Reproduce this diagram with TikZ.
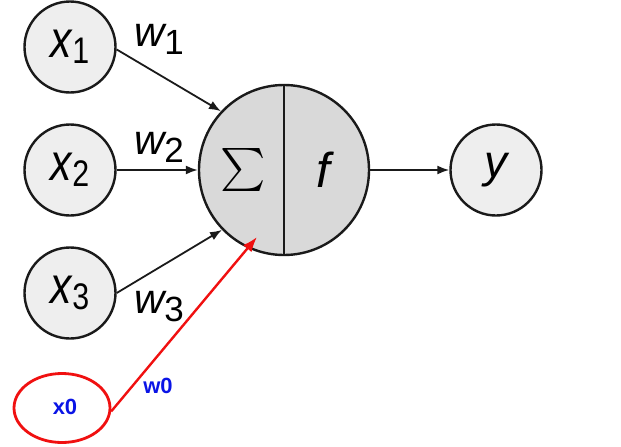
\documentclass[tikz,border=0pt]{standalone}
\usepackage{fontspec}
\setmainfont{Liberation Sans}
\usetikzlibrary{shapes.geometric,arrows.meta}
\newcommand{\xsub}[1]{\scalebox{0.82}[1]{{\fontsize{52}{52}\selectfont\itshape x}\kern0.5pt\raisebox{-6pt}{\fontsize{37}{37}\selectfont #1}}}
\newcommand{\wsub}[1]{{\fontsize{42}{42}\selectfont\itshape w}\raisebox{-8pt}{\fontsize{35}{35}\selectfont #1}}
\definecolor{smallfill}{HTML}{EEEEEE}
\definecolor{bigfill}{HTML}{D9D9D9}
\definecolor{edge}{HTML}{1A1A1A}
\definecolor{myred}{HTML}{F01010}
\definecolor{myblue}{HTML}{0A14E6}
\begin{document}
\begin{tikzpicture}[x=1pt,y=-1pt,
  inp/.style={circle,draw=edge,line width=2.4pt,fill=smallfill,minimum size=91pt,inner sep=0pt},
  conn/.style={line width=1.8pt,draw=edge,-{Latex[length=12pt,width=9pt]}},
  redconn/.style={line width=2.4pt,draw=myred,-{Latex[length=15pt,width=11pt]}},
  lab/.style={inner sep=0pt},
  bluelab/.style={text=myblue,font=\fontsize{22}{22}\selectfont\bfseries,inner sep=0pt}]
\useasboundingbox (0,0) rectangle (621,447);
% input nodes
\node[inp] (x1) at (70,47) {\xsub{1}};
\node[inp] (x2) at (70,170) {\xsub{2}};
\node[inp] (x3) at (70,293) {\xsub{3}};
% summation / activation node
\node[circle,draw=edge,line width=2.4pt,fill=bigfill,minimum size=170pt,inner sep=0pt] (sum) at (284,170) {};
\draw[line width=2.4pt,draw=edge] (sum.north) -- (sum.south);
\node[lab] (sigma) at (243,170) {\scalebox{4.3}{$\sum$}};
\node[lab] (f) at (323,170) {\fontsize{49}{49}\selectfont\itshape f};
% output node
\node[inp] (y) at (496,170) {\fontsize{46}{46}\selectfont\itshape y};
% bias node
\node[ellipse,draw=myred,line width=2.8pt,minimum width=96pt,minimum height=69pt,inner sep=0pt] (x0) at (62,408) {};
\node[bluelab] (x0t) at (65,407) {x0};
% connectors
\draw[conn] (x1.-3) -- (sum.137);
\draw[conn] (x2.east) -- (sum.west);
\draw[conn] (x3.east) -- (sum.224);
\draw[conn] (sum.east) -- (y.west);
\coordinate (w0tip) at (257,237);
\draw[redconn] (x0.-4) -- (w0tip);
% weight labels
\node[lab] (w1) at (159,39) {\wsub{1}};
\node[lab] (w2) at (159,147) {\wsub{2}};
\node[lab] (w3) at (159,307) {\wsub{3}};
\node[bluelab] (w0) at (158,386) {w0};
\end{tikzpicture}
\end{document}
